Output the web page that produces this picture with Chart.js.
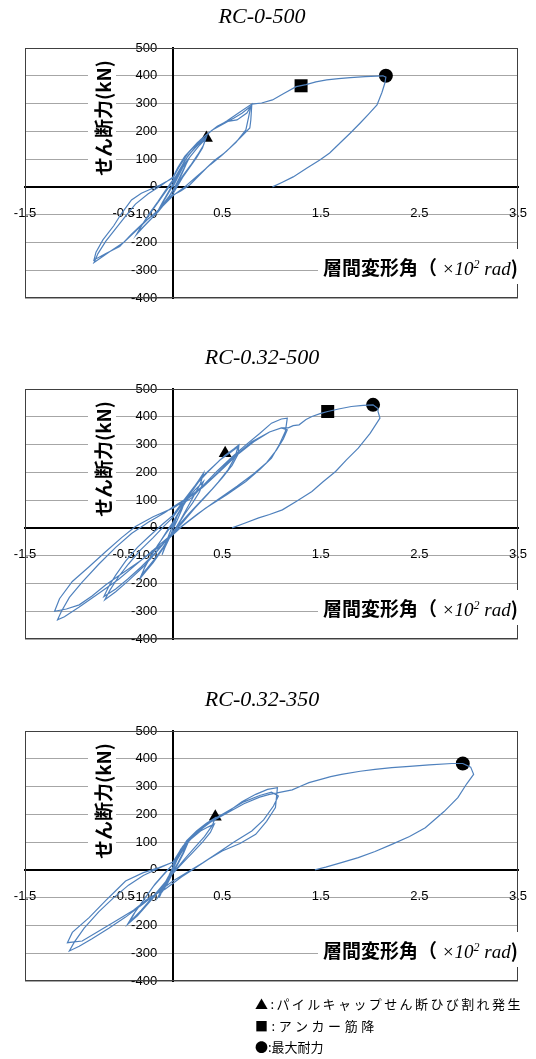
<!DOCTYPE html>
<html>
<head>
<meta charset="utf-8">
<script src="https://cdn.jsdelivr.net/npm/chart.js@4.4.1/dist/chart.umd.min.js"></script>
<style>
body { margin: 0; background: #fff; width: 536px; height: 1059px; position: relative; overflow: hidden; }
canvas { position: absolute; left: 0; }
#legend { position: absolute; left: 255px; top: 993px; font-family: "Noto Sans CJK JP"; font-size: 13px; line-height: 21.5px; color: #000; }
</style>
</head>
<body>
<canvas id="c0" width="536" height="320" style="top:0px"></canvas>
<canvas id="c1" width="536" height="320" style="top:341px"></canvas>
<canvas id="c2" width="536" height="320" style="top:683px"></canvas>
<div id="legend">
  <div style="letter-spacing:2.4px">▲:パイルキャップせん断ひび割れ発生</div>
  <div style="letter-spacing:3.6px">■:アンカー筋降</div>
  <div>●:最大耐力</div>
</div>
<script>
// chart titles and axis ticks
const titles = ['RC-0-500', 'RC-0.32-500', 'RC-0.32-350'];
const xTicks = [-1.5, -0.5, 0.5, 1.5, 2.5, 3.5];
const yTicks = [-400, -300, -200, -100, 0, 100, 200, 300, 400, 500];

// hysteresis curves [drift (x10^-2 rad), shear (kN)]
const curve0 = [
  [0,0],[0.05,35],[0.1,70],[0.15,95],[0.12,70],[0.07,30],[0.03,0],[-0.03,-30],[-0.08,-55],[-0.14,-80],
  [-0.1,-55],[-0.05,-25],[0,5],[0.05,40],[0.1,75],[0.16,100],[0.12,72],[0.06,28],[0.02,0],[-0.04,-35],
  [-0.1,-65],[-0.15,-85],[-0.1,-52],[-0.04,-15],[0,10],
  [0.06,50],[0.12,85],[0.2,120],[0.27,150],[0.33,172],[0.3,140],[0.24,105],[0.17,70],[0.1,35],[0.05,5],
  [0,-25],[-0.07,-55],[-0.15,-90],[-0.25,-125],[-0.36,-166],
  [-0.3,-130],[-0.22,-90],[-0.14,-50],[-0.07,-15],[0,20],[0.08,70],[0.16,115],[0.25,150],[0.34,180],
  [0.31,150],[0.25,115],[0.18,78],[0.1,40],[0.04,5],[-0.02,-25],[-0.1,-62],[-0.2,-108],[-0.3,-145],[-0.37,-172],
  [-0.31,-135],[-0.23,-92],[-0.15,-52],[-0.08,-15],[-0.02,15],
  [0.05,48],[0.12,95],[0.22,140],[0.33,185],[0.45,218],[0.54,235],[0.65,241],[0.75,266],[0.8,295],
  [0.79,240],[0.78,212],[0.68,176],[0.54,127],[0.42,95],[0.34,68],[0.17,7],[0.08,-15],[-0.03,-35],
  [-0.15,-85],[-0.3,-130],[-0.42,-170],[-0.54,-215],[-0.68,-240],[-0.8,-263],
  [-0.78,-235],[-0.71,-191],[-0.6,-140],[-0.52,-95],[-0.42,-47],[-0.32,-23],[-0.13,7],[0,32],[0.06,70],
  [0.15,120],[0.28,170],[0.4,205],[0.52,228],[0.62,248],[0.7,265],[0.79,290],
  [0.77,255],[0.74,205],[0.64,160],[0.5,115],[0.38,80],[0.25,40],[0.12,0],[0,-32],[-0.12,-75],[-0.25,-115],
  [-0.38,-160],[-0.5,-200],[-0.65,-235],[-0.8,-272],
  [-0.76,-240],[-0.68,-195],[-0.58,-150],[-0.48,-105],[-0.38,-62],[-0.25,-25],[-0.12,5],[0,35],
  [0.05,70],[0.12,110],[0.25,160],[0.4,205],[0.55,238],[0.68,270],[0.8,298],[0.9,302],[1.01,313],[1.12,335],
  [1.25,361],[1.35,368],[1.45,378],[1.56,385],[1.68,390],[1.8,393],[1.95,397],[2.13,400],[2.16,395],
  [2.15,374],[2.12,340],[2.07,295],[1.98,260],[1.9,230],[1.8,194],[1.7,160],[1.59,122],[1.49,97],[1.36,68],
  [1.22,36],[1.1,15],[1.01,0]
];
const curve1 = [
  [0,0],[0.04,40],[0.08,70],[0.12,95],[0.09,65],[0.04,25],[0,-5],[-0.04,-40],[-0.08,-70],[-0.11,-97],
  [-0.08,-65],[-0.04,-25],[0,10],
  [0.06,55],[0.12,95],[0.2,140],[0.26,170],[0.31,197],[0.28,160],[0.22,120],[0.15,75],[0.08,30],[0.03,0],
  [-0.04,-40],[-0.12,-85],[-0.2,-125],[-0.27,-155],[-0.33,-181],[-0.29,-145],[-0.22,-100],[-0.15,-60],
  [-0.07,-20],[0,15],[0.07,60],[0.14,100],[0.22,135],[0.31,167],[0.27,130],[0.2,90],[0.12,50],[0.05,10],
  [-0.02,-25],[-0.1,-70],[-0.18,-110],[-0.26,-145],[-0.32,-170],[-0.27,-130],[-0.2,-88],[-0.12,-45],
  [-0.05,-5],[0,20],
  [0.08,70],[0.18,125],[0.3,185],[0.42,225],[0.53,262],[0.62,285],[0.67,299],
  [0.66,265],[0.6,225],[0.5,180],[0.4,140],[0.28,95],[0.16,50],[0.06,10],[-0.05,-35],[-0.18,-90],
  [-0.32,-140],[-0.46,-185],[-0.58,-220],[-0.7,-247],
  [-0.65,-210],[-0.58,-170],[-0.48,-120],[-0.36,-70],[-0.24,-30],[-0.1,15],[0,45],[0.1,95],[0.22,150],
  [0.35,200],[0.48,245],[0.58,270],[0.66,292],
  [0.63,255],[0.56,210],[0.46,165],[0.35,120],[0.22,70],[0.1,20],[-0.02,-25],[-0.15,-80],[-0.3,-140],
  [-0.45,-190],[-0.58,-230],[-0.69,-259],
  [-0.64,-225],[-0.55,-175],[-0.45,-130],[-0.33,-80],[-0.2,-35],[-0.08,10],[0,38],
  [0.1,88],[0.19,108],[0.3,150],[0.45,205],[0.6,255],[0.74,299],[0.88,340],[1.0,377],[1.1,392],[1.16,395],
  [1.15,370],[1.14,347],[1.08,300],[1.0,251],[0.88,210],[0.74,167],[0.55,120],[0.33,71],[0.09,5],
  [-0.11,-61],[-0.34,-121],[-0.52,-165],[-0.68,-205],[-0.82,-245],[-0.95,-277],[-1.08,-292],[-1.2,-300],
  [-1.15,-255],[-1.02,-193],[-0.85,-140],[-0.68,-85],[-0.52,-35],[-0.38,5],[-0.2,40],[0,71],[0.15,105],
  [0.3,145],[0.48,205],[0.65,262],[0.82,310],[0.98,345],[1.1,360],[1.16,353],
  [1.12,320],[1.05,280],[0.95,235],[0.82,195],[0.65,150],[0.45,100],[0.25,50],[0.05,-5],[-0.15,-65],
  [-0.35,-125],[-0.55,-185],[-0.75,-235],[-0.95,-285],[-1.1,-320],[-1.17,-331],
  [-1.13,-300],[-1.05,-250],[-0.92,-195],[-0.75,-130],[-0.58,-70],[-0.42,-20],[-0.25,20],[-0.08,55],[0,75],
  [0.2,120],[0.4,180],[0.6,250],[0.8,310],[0.98,345],[1.1,360],[1.17,360],[1.22,368],[1.28,371],[1.35,390],
  [1.41,401],[1.5,412],[1.57,419],[1.68,428],[1.81,437],[1.93,441],[2.03,443],[2.08,430],[2.08,419],
  [2.1,395],[2.0,340],[1.88,287],[1.76,245],[1.65,203],[1.52,165],[1.41,131],[1.25,95],[1.11,65],
  [0.98,48],[0.87,36],[0.72,16],[0.6,0]
];
const curve2 = [
  [0,0],[0.04,35],[0.09,65],[0.14,90],[0.1,60],[0.05,25],[0,-5],[-0.05,-40],[-0.1,-70],[-0.14,-100],
  [-0.1,-65],[-0.05,-30],[0,5],[0.05,42],[0.1,72],[0.15,95],[0.11,62],[0.05,20],[0,-10],[-0.05,-45],
  [-0.1,-75],[-0.15,-98],[-0.1,-60],[-0.04,-20],[0,10],
  [0.06,60],[0.14,105],[0.24,140],[0.34,168],[0.43,188],[0.4,160],[0.32,120],[0.22,80],[0.12,40],[0.04,5],
  [-0.05,-35],[-0.15,-80],[-0.26,-125],[-0.36,-165],[-0.46,-196],[-0.4,-160],[-0.3,-110],[-0.2,-60],
  [-0.1,-20],[0,20],[0.08,70],[0.18,110],[0.28,140],[0.36,155],[0.42,165],[0.38,135],[0.3,100],[0.2,62],
  [0.1,25],[0.02,-5],[-0.08,-45],[-0.2,-95],[-0.32,-145],[-0.44,-188],[-0.38,-150],[-0.28,-100],
  [-0.18,-50],[-0.08,-10],[0,20],
  [0.08,75],[0.16,104],[0.3,150],[0.44,188],[0.57,212],[0.7,245],[0.84,272],[0.96,290],[1.06,296],
  [1.05,260],[1.04,224],[0.95,175],[0.84,128],[0.68,95],[0.5,68],[0.36,38],[0.23,8],[0.09,-25],
  [-0.08,-70],[-0.24,-100],[-0.4,-145],[-0.58,-184],[-0.75,-220],[-0.92,-256],[-1.07,-262],
  [-1.02,-225],[-0.85,-172],[-0.68,-110],[-0.58,-75],[-0.48,-40],[-0.3,-10],[-0.14,8],[0.03,32],[0.1,80],
  [0.22,130],[0.38,175],[0.55,210],[0.72,245],[0.88,268],[1.0,280],[1.07,266],
  [1.02,230],[0.92,180],[0.8,140],[0.62,100],[0.45,60],[0.3,25],[0.15,-8],[0,-40],[-0.15,-80],
  [-0.3,-122],[-0.48,-170],[-0.65,-210],[-0.82,-248],[-0.95,-275],[-1.05,-292],
  [-1.0,-260],[-0.9,-210],[-0.75,-150],[-0.6,-100],[-0.45,-55],[-0.3,-20],[-0.15,5],[0,28],
  [0.1,85],[0.22,130],[0.38,172],[0.55,205],[0.72,238],[0.88,262],[0.98,272],[1.07,278],[1.21,288],
  [1.3,302],[1.38,314],[1.5,326],[1.6,336],[1.71,344],[1.9,355],[2.05,362],[2.22,368],[2.4,373],[2.6,378],
  [2.83,383],[2.94,383],[3.02,370],[3.05,344],[2.98,310],[2.89,260],[2.75,210],[2.56,152],[2.4,120],
  [2.22,92],[2.05,66],[1.88,44],[1.7,25],[1.55,10],[1.44,0]
];
const curves = [curve0, curve1, curve2];

// event markers per specimen (null = not observed)
const crackPts = [[0.34, 176], [0.53, 269], [0.43, 191]];
const anchorPts = [[1.30, 364], [1.57, 419], null];
const maxPts = [[2.16, 400], [2.03, 443], [2.94, 383]];

const lineBlue = '#4f81bd';
const cjk = '"Noto Sans CJK JP"';

const toXY = p => ({ x: p[0], y: p[1] });

const decorPlugin = {
  id: 'decor',
  beforeDatasetsDraw(chart) {
    const { ctx, chartArea: a } = chart;
    ctx.save();
    // plot frame
    ctx.strokeStyle = '#404040';
    ctx.lineWidth = 1;
    ctx.strokeRect(a.left + 0.5, a.top + 0.5, a.width - 1, a.height - 1);

    // y axis title
    ctx.fillStyle = '#fff';
    ctx.fillRect(88, a.top + 4, 28, 132);
    ctx.translate(104, a.top + 70);
    ctx.rotate(-Math.PI / 2);
    ctx.fillStyle = '#000';
    ctx.font = 'bold 19px ' + cjk;
    ctx.textAlign = 'center';
    ctx.textBaseline = 'middle';
    ctx.fillText('せん断力(kN)', 0, 0);
    ctx.restore();

    // x axis title
    ctx.save();
    ctx.fillStyle = '#fff';
    ctx.fillRect(318, a.top + 201, 210, 35);
    ctx.fillStyle = '#000';
    ctx.textBaseline = 'alphabetic';
    const parts = [
      ['層間変形角（', 'bold 19px ' + cjk, 0],
      [' ×10', 'italic 19px "Liberation Serif"', 0],
      ['2', 'italic 12px "Liberation Serif"', -7],
      [' rad', 'italic 19px "Liberation Serif"', 0],
      [')', 'bold 19px ' + cjk, 0]
    ];
    let x = 323;
    const base = a.top + 227;
    parts.forEach(([t, f, dy]) => {
      ctx.font = f;
      ctx.fillText(t, x, base + dy);
      x += ctx.measureText(t).width;
    });
    ctx.restore();
  },
  afterDraw(chart, args, opts) {
    const { ctx } = chart;
    ctx.save();
    ctx.fillStyle = '#000';
    ctx.font = 'italic 22px "Liberation Serif"';
    ctx.textAlign = 'center';
    ctx.textBaseline = 'alphabetic';
    ctx.fillText(opts.title, 262, 23);
    ctx.restore();
  }
};

Chart.defaults.font.family = '"Liberation Sans", Arial, sans-serif';
Chart.defaults.font.size = 13;
Chart.defaults.color = '#000';

function makeChart(i) {
  const datasets = [{
    data: curves[i].map(toXY),
    showLine: true,
    borderColor: lineBlue,
    borderWidth: 1.2,
    pointRadius: 0,
    tension: 0
  }, {
    data: [toXY(crackPts[i])],
    pointStyle: 'triangle',
    pointRadius: 7.5,
    backgroundColor: '#000',
    borderColor: '#000',
    borderWidth: 0
  }];
  if (anchorPts[i]) {
    datasets.push({
      data: [toXY(anchorPts[i])],
      pointStyle: 'rect',
      pointRadius: 9.2,
      backgroundColor: '#000',
      borderColor: '#000',
      borderWidth: 0
    });
  }
  datasets.push({
    data: [toXY(maxPts[i])],
    pointStyle: 'circle',
    pointRadius: 7,
    backgroundColor: '#000',
    borderColor: '#000',
    borderWidth: 0
  });

  const xRange = { type: 'linear', min: -1.5, max: 3.5 };
  const yRange = { type: 'linear', min: -400, max: 500 };
  const clear = 'rgba(0,0,0,0)';

  new Chart(document.getElementById('c' + i), {
    type: 'scatter',
    data: { datasets: datasets },
    options: {
      responsive: false,
      animation: false,
      devicePixelRatio: 1,
      layout: { padding: { left: 25, right: 18, top: 48, bottom: 22 } },
      plugins: {
        legend: { display: false },
        tooltip: { enabled: false },
        decor: { title: titles[i] }
      },
      scales: {
        // drift axis: the black zero line only
        x: Object.assign({}, xRange, {
          position: { y: 0 },
          afterBuildTicks: s => { s.ticks = xTicks.map(v => ({ value: v })); },
          grid: { color: clear, drawTicks: false },
          border: { color: '#000', width: 2 },
          ticks: { display: false }
        }),
        // same range, carries the labels a bit below the zero line
        xLabels: Object.assign({}, xRange, {
          axis: 'x',
          position: { y: -66 },
          afterBuildTicks: s => { s.ticks = xTicks.map(v => ({ value: v })); },
          grid: { color: clear, drawTicks: false },
          border: { display: false },
          ticks: { padding: 0, autoSkip: false, maxRotation: 0 }
        }),
        // shear axis: grid lines and the black zero line
        y: Object.assign({}, yRange, {
          position: { x: 0 },
          afterBuildTicks: s => { s.ticks = yTicks.map(v => ({ value: v })); },
          grid: { color: '#a6a6a6', lineWidth: 1, drawTicks: false },
          border: { color: '#000', width: 2 },
          ticks: { display: false }
        }),
        // same range, labels a little left of the zero line
        yLabels: Object.assign({}, yRange, {
          axis: 'y',
          position: { x: -0.16 },
          afterBuildTicks: s => { s.ticks = yTicks.map(v => ({ value: v })); },
          grid: { color: clear, drawTicks: false },
          border: { display: false },
          ticks: { autoSkip: false }
        })
      }
    },
    plugins: [decorPlugin]
  });
}

[0, 1, 2].forEach(makeChart);
</script>
</body>
</html>
